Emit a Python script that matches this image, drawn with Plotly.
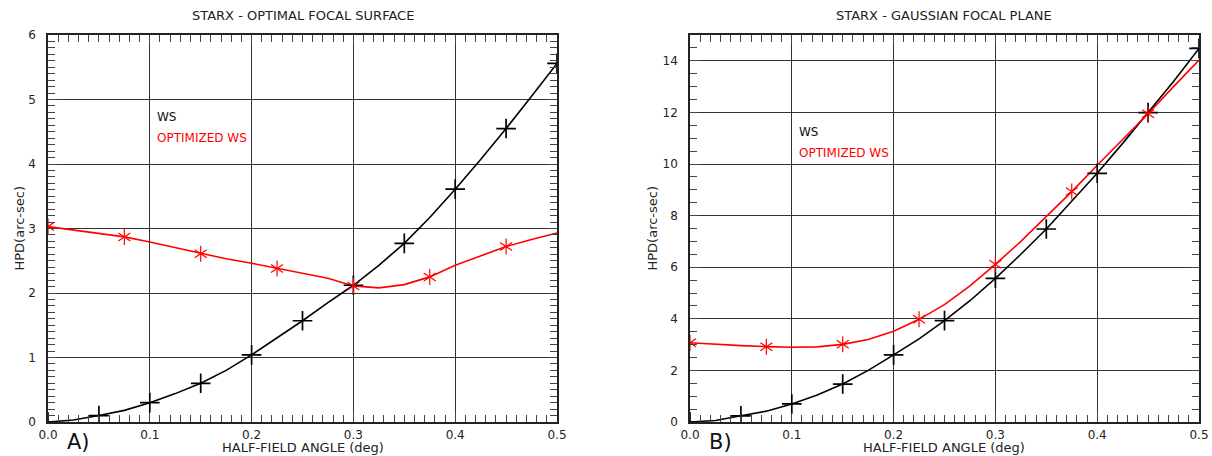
import plotly.graph_objects as go

# ---------------- data ----------------
# line samples (every 0.025 deg)
x_line = [0.0, 0.025, 0.05, 0.075, 0.1, 0.125, 0.15, 0.175, 0.2, 0.225, 0.25,
          0.275, 0.3, 0.325, 0.35, 0.375, 0.4, 0.425, 0.45, 0.475, 0.5]

# Panel A - optimal focal surface
a_ws = [0.0, 0.03, 0.10, 0.18, 0.30, 0.44, 0.60, 0.80, 1.04, 1.30, 1.57,
        1.85, 2.12, 2.43, 2.77, 3.17, 3.61, 4.07, 4.55, 5.05, 5.56]
a_opt = [3.03, 2.98, 2.93, 2.87, 2.79, 2.70, 2.61, 2.53, 2.46, 2.38, 2.31,
         2.23, 2.11, 2.08, 2.13, 2.25, 2.43, 2.58, 2.72, 2.83, 2.93]

# Panel B - gaussian focal plane
b_ws = [0.0, 0.06, 0.24, 0.42, 0.70, 1.05, 1.47, 2.00, 2.60, 3.22, 3.93,
        4.70, 5.57, 6.50, 7.48, 8.55, 9.64, 10.80, 11.99, 13.20, 14.48]
b_opt = [3.07, 3.01, 2.96, 2.92, 2.90, 2.91, 3.01, 3.20, 3.52, 3.98, 4.55,
         5.28, 6.11, 7.00, 7.95, 8.93, 9.95, 10.95, 11.95, 13.00, 14.03]

ws_marker_step = 2     # "+" every 0.05 deg
opt_marker_step = 3    # "*" every 0.075 deg

titles = ["STARX - OPTIMAL FOCAL SURFACE", "STARX - GAUSSIAN FOCAL PLANE"]
x_title = "HALF-FIELD ANGLE (deg)"
y_title = "HPD(arc-sec)"
panel_tags = ["A)", "B)"]
legend_labels = ["WS", "OPTIMIZED WS"]
x_ticks = [0.0, 0.1, 0.2, 0.3, 0.4, 0.5]
x_ticklabels = ["0.0", "0.1", "0.2", "0.3", "0.4", "0.5"]

# ---------------- layout geometry ----------------
W, H = 1212, 456
FONT = "DejaVu Sans"
left_px = [(48, 557), (690, 1199)]
top_px, bot_px = 35, 422
y_dom = [1 - bot_px / H, 1 - top_px / H]

fig = go.Figure()

panels = [
    dict(ws=a_ws, opt=a_opt, yr=[0, 6], ydt=1, ymin=0.1, leg_y=(4.73, 4.40)),
    dict(ws=b_ws, opt=b_opt, yr=[0, 15], ydt=2, ymin=0.5, leg_y=(11.24, 10.43)),
]

RED = "#ff0000"

for i, p in enumerate(panels):
    xa = "x" if i == 0 else "x2"
    ya = "y" if i == 0 else "y2"
    # lines
    fig.add_trace(go.Scatter(x=x_line, y=p["ws"], mode="lines",
                             line=dict(color="black", width=1.6),
                             xaxis=xa, yaxis=ya, showlegend=False, hoverinfo="skip"))
    fig.add_trace(go.Scatter(x=x_line, y=p["opt"], mode="lines",
                             line=dict(color=RED, width=1.6),
                             xaxis=xa, yaxis=ya, showlegend=False, hoverinfo="skip"))
    # markers
    fig.add_trace(go.Scatter(x=x_line[::ws_marker_step], y=p["ws"][::ws_marker_step],
                             mode="markers",
                             marker=dict(symbol="cross-thin-open", size=14, color="black",
                                         line=dict(color="black", width=1.7)),
                             xaxis=xa, yaxis=ya, showlegend=False, hoverinfo="skip"))
    for sym in ["y-up-open", "y-down-open"]:
        fig.add_trace(go.Scatter(x=x_line[::opt_marker_step], y=p["opt"][::opt_marker_step],
                                 mode="markers",
                                 marker=dict(symbol=sym, size=10, color=RED,
                                             line=dict(color=RED, width=1.2)),
                                 xaxis=xa, yaxis=ya, showlegend=False, hoverinfo="skip"))

    x0, x1 = left_px[i]
    axis_common = dict(
        showline=True, linecolor="#222", linewidth=1.5, mirror="allticks",
        ticks="inside", ticklen=9, tickcolor="#444", tickwidth=1.2,
        showgrid=True, gridcolor="#333", gridwidth=1,
        zeroline=False, automargin=False,
        tickfont=dict(family=FONT, size=12, color="#222"),
    )
    xkey = "xaxis" if i == 0 else "xaxis2"
    ykey = "yaxis" if i == 0 else "yaxis2"
    fig.update_layout(**{
        xkey: dict(axis_common, domain=[x0 / W, x1 / W], range=[0, 0.5],
                   anchor=ya, tickmode="array", tickvals=x_ticks, ticktext=x_ticklabels,
                   ticklabelstandoff=1,
                   minor=dict(dtick=0.01, ticks="inside", ticklen=7,
                              tickcolor="#444", tickwidth=1.2, showgrid=False)),
        ykey: dict(axis_common, domain=y_dom, range=p["yr"], anchor=xa,
                   dtick=p["ydt"], tick0=0, ticklabelstandoff=8,
                   minor=dict(dtick=p["ymin"], ticks="inside", ticklen=7,
                              tickcolor="#444", tickwidth=1.2, showgrid=False)),
    })

    cx = (x0 + x1) / 2 / W
    # title
    fig.add_annotation(text=titles[i], x=cx, y=1 - 15 / H, xref="paper", yref="paper",
                       showarrow=False, xanchor="center", yanchor="middle",
                       font=dict(family=FONT, size=13, color="#222"))
    # x title
    fig.add_annotation(text=x_title, x=cx, y=1 - 447.5 / H, xref="paper", yref="paper",
                       showarrow=False, xanchor="center", yanchor="middle",
                       font=dict(family=FONT, size=13, color="#222"))
    # y title
    fig.add_annotation(text=y_title, x=(x0 - 29 if i == 0 else x0 - 38) / W,
                       y=1 - 228.5 / H, xref="paper", yref="paper", textangle=-90,
                       showarrow=False, xanchor="center", yanchor="middle",
                       font=dict(family=FONT, size=13, color="#222"))
    # panel tag
    fig.add_annotation(text=panel_tags[i], x=(x0 + 30) / W, y=1 - 442 / H,
                       xref="paper", yref="paper", showarrow=False,
                       xanchor="center", yanchor="middle",
                       font=dict(family=FONT, size=21, color="#111"))
    # legend texts
    for lbl, yy, col in zip(legend_labels, p["leg_y"], ["#111", RED]):
        fig.add_annotation(text=lbl, x=0.105, y=yy, xref=xa, yref=ya,
                           showarrow=False, xanchor="left", yanchor="middle",
                           font=dict(family=FONT, size=12, color=col))

fig.update_layout(
    width=W, height=H, margin=dict(l=0, r=0, t=0, b=0),
    paper_bgcolor="white", plot_bgcolor="white", showlegend=False,
)

fig.write_html("out.html")
